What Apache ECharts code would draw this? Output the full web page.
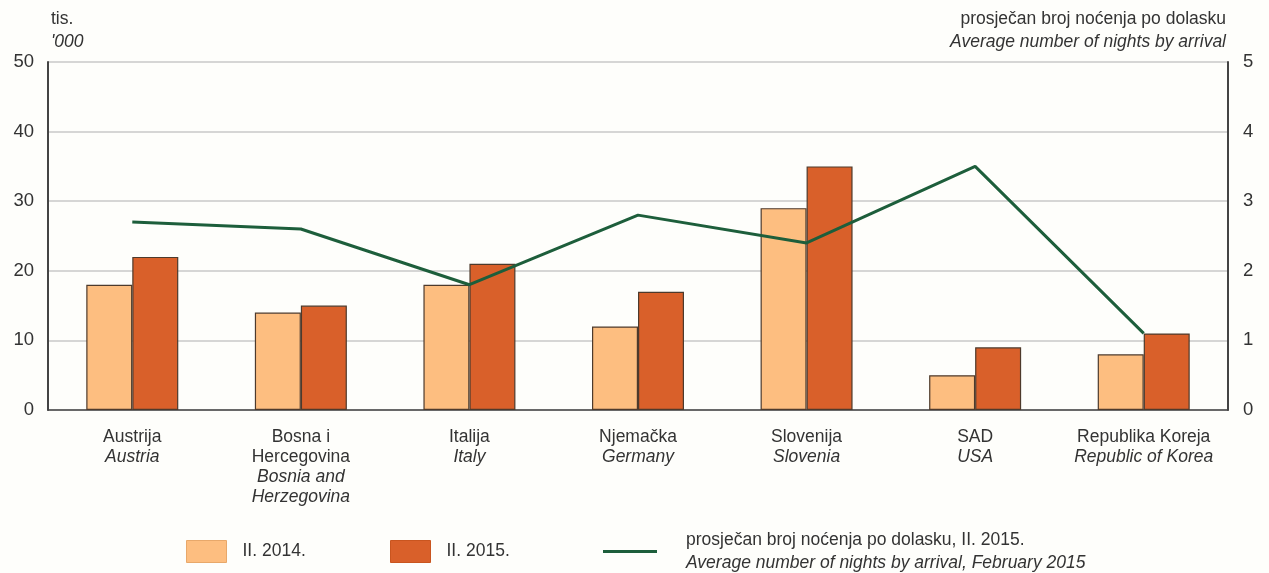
<!DOCTYPE html>
<html>
<head>
<meta charset="utf-8">
<script src="https://cdn.jsdelivr.net/npm/echarts@6/dist/echarts.min.js"></script>
<style>
html,body{margin:0;padding:0;background:#fefefb;}
#chart{width:1269px;height:573px;}
</style>
</head>
<body>
<div id="chart"></div>
<script>
var categoriesHr = ['Austrija', 'Bosna i\nHercegovina', 'Italija', 'Njemačka', 'Slovenija', 'SAD', 'Republika Koreja'];
var categoriesEn = ['Austria', 'Bosnia and\nHerzegovina', 'Italy', 'Germany', 'Slovenia', 'USA', 'Republic of Korea'];
var nights2014 = [18, 14, 18, 12, 29, 5, 8];
var nights2015 = [22, 15, 21, 17, 35, 9, 11];
var avgNights2015 = [2.7, 2.6, 1.8, 2.8, 2.4, 3.5, 1.1];
var leftTicks = [0, 10, 20, 30, 40, 50];
var rightTicks = [0, 1, 2, 3, 4, 5];

var FONT = 'Liberation Sans, Arial, sans-serif';
var TXT = '#333333';
var FS = 17.5;

var chart = echarts.init(document.getElementById('chart'), null, {renderer: 'canvas'});

function catLabel(value, idx) {
  var hr = categoriesHr[idx].split('\n').map(function (s) { return '{n|' + s + '}'; });
  var en = categoriesEn[idx].split('\n').map(function (s) { return '{e|' + s + '}'; });
  return hr.concat(en).join('\n');
}

var option = {
  backgroundColor: '#fefefb',
  animation: false,
  textStyle: {fontFamily: FONT},
  grid: {left: 48, right: 41, top: 62, bottom: 163, containLabel: false},
  xAxis: {
    type: 'category',
    data: categoriesHr,
    axisLine: {show: true, lineStyle: {color: '#444444', width: 1.5}},
    axisTick: {show: false},
    axisLabel: {
      interval: 0,
      margin: 17,
      formatter: catLabel,
      rich: {
        n: {fontSize: FS, lineHeight: 20, color: TXT, fontFamily: FONT},
        e: {fontSize: FS, lineHeight: 20, color: TXT, fontFamily: FONT, fontStyle: 'italic'}
      }
    }
  },
  yAxis: [
    {
      type: 'value',
      min: leftTicks[0],
      max: leftTicks[leftTicks.length - 1],
      interval: leftTicks[1] - leftTicks[0],
      position: 'left',
      name: '{a|tis.}\n{b|\'000}',
      nameLocation: 'end',
      nameGap: 8,
      nameTextStyle: {
        align: 'left',
        verticalAlign: 'bottom',
        padding: [0, 0, 0, 3],
        rich: {
          a: {fontSize: FS, lineHeight: 23, color: TXT, fontFamily: FONT},
          b: {fontSize: FS, lineHeight: 23, color: TXT, fontFamily: FONT, fontStyle: 'italic'}
        }
      },
      axisLine: {show: true, lineStyle: {color: '#444444', width: 2}},
      axisTick: {show: false},
      axisLabel: {fontSize: 18.5, color: TXT, margin: 14, fontFamily: FONT},
      splitLine: {show: true, lineStyle: {color: '#c8c8c8', width: 1.5}}
    },
    {
      type: 'value',
      min: rightTicks[0],
      max: rightTicks[rightTicks.length - 1],
      interval: rightTicks[1] - rightTicks[0],
      position: 'right',
      name: '{a|prosječan broj noćenja po dolasku}\n{b|Average number of nights by arrival}',
      nameLocation: 'end',
      nameGap: 8,
      nameTextStyle: {
        align: 'right',
        verticalAlign: 'bottom',
        padding: [0, 2, 0, 0],
        rich: {
          a: {fontSize: FS, lineHeight: 23, color: TXT, fontFamily: FONT, align: 'right'},
          b: {fontSize: FS, lineHeight: 23, color: TXT, fontFamily: FONT, fontStyle: 'italic', align: 'right'}
        }
      },
      axisLine: {show: true, lineStyle: {color: '#444444', width: 2}},
      axisTick: {show: false},
      axisLabel: {fontSize: 18.5, color: TXT, margin: 15, fontFamily: FONT},
      splitLine: {show: false}
    }
  ],
  legend: [
    {
      data: [{name: 'II. 2014.', icon: 'rect', itemStyle: {borderColor: '#e8a86a', borderWidth: 1}}],
      left: 186, top: 540, padding: 0,
      itemWidth: 40, itemHeight: 22,
      selectedMode: false,
      textStyle: {fontSize: FS, color: TXT, fontFamily: FONT, padding: [0, 0, 0, 11]}
    },
    {
      data: [{name: 'II. 2015.', icon: 'rect', itemStyle: {borderColor: '#c9551f', borderWidth: 1}}],
      left: 390, top: 540, padding: 0,
      itemWidth: 40, itemHeight: 22,
      selectedMode: false,
      textStyle: {fontSize: FS, color: TXT, fontFamily: FONT, padding: [0, 0, 0, 11]}
    },
    {
      data: [{name: 'avg', icon: 'rect'}],
      left: 603, top: 531, padding: 0,
      itemWidth: 54, itemHeight: 3,
      selectedMode: false,
      formatter: function () {
        return '{a|prosječan broj noćenja po dolasku, II. 2015.}\n{b|Average number of nights by arrival, February 2015}';
      },
      textStyle: {
        fontSize: FS, color: TXT, fontFamily: FONT, padding: [0, 0, 0, 24],
        rich: {
          a: {fontSize: FS, lineHeight: 23, color: TXT, fontFamily: FONT},
          b: {fontSize: FS, lineHeight: 23, color: TXT, fontFamily: FONT, fontStyle: 'italic'}
        }
      }
    }
  ],
  series: [
    {
      name: 'II. 2014.',
      type: 'bar',
      data: nights2014,
      barWidth: 46,
      barGap: '0%',
      itemStyle: {color: '#fdbe80', borderColor: '#4d3a2c', borderWidth: 1.2}
    },
    {
      name: 'II. 2015.',
      type: 'bar',
      data: nights2015,
      barWidth: 46,
      barGap: '0%',
      itemStyle: {color: '#d9602a', borderColor: '#4d3a2c', borderWidth: 1.2}
    },
    {
      name: 'avg',
      type: 'line',
      yAxisIndex: 1,
      data: avgNights2015,
      symbol: 'none',
      lineStyle: {color: '#1d5e3b', width: 3},
      itemStyle: {color: '#1d5e3b'},
      z: 5
    }
  ]
};
chart.setOption(option);
</script>
</body>
</html>
